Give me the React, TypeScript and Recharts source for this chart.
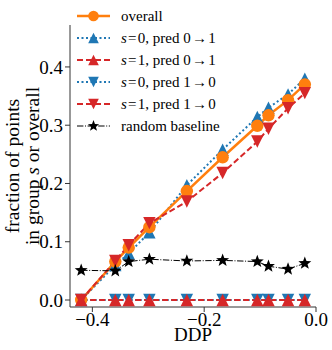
import React from "react";
import { LineChart, Line, XAxis, YAxis } from "recharts";

// values
const ddp = [-0.42, -0.359, -0.335, -0.298, -0.231, -0.167, -0.105, -0.085, -0.05, -0.02];
const overall = [0.0, 0.066, 0.09, 0.125, 0.187, 0.245, 0.299, 0.317, 0.343, 0.37];
const s0Pred01 = [0.0, 0.06, 0.08, 0.116, 0.197, 0.258, 0.314, 0.33, 0.353, 0.38];
const s1Pred01 = [0, 0, 0, 0, 0, 0, 0, 0, 0, 0];
const s0Pred10 = [0, 0, 0, 0, 0, 0, 0, 0, 0, 0];
const s1Pred10 = [0.0, 0.067, 0.094, 0.132, 0.169, 0.218, 0.272, 0.294, 0.329, 0.355];
const randomBaseline = [0.051, 0.05, 0.066, 0.07, 0.067, 0.068, 0.066, 0.058, 0.053, 0.063];

const xTicks = [-0.4, -0.2, 0.0];
const yTicks = [0, 0.1, 0.2, 0.3, 0.4];

const ORANGE = "#ff7f0e";
const BLUE = "#1f77b4";
const RED = "#d62728";
const FONT = "Liberation Serif, Times New Roman, serif";

const data = ddp.map((x, i) => ({
  ddp: x,
  overall: overall[i],
  s0Up: s0Pred01[i],
  s1Up: s1Pred01[i],
  s0Down: s0Pred10[i],
  s1Down: s1Pred10[i],
  baseline: randomBaseline[i],
}));

type MarkerKind = "circle" | "up" | "down" | "star";

function marker(kind: MarkerKind, cx: number, cy: number, color: string, key?: any, h = 6.2) {
  if (kind === "circle") return <circle key={key} cx={cx} cy={cy} r={h} fill={color} />;
  if (kind === "up")
    return <polygon key={key} points={`${cx},${cy - h} ${cx - h},${cy + h} ${cx + h},${cy + h}`} fill={color} />;
  if (kind === "down")
    return <polygon key={key} points={`${cx},${cy + h} ${cx - h},${cy - h} ${cx + h},${cy - h}`} fill={color} />;
  // five point star
  const pts: string[] = [];
  for (let i = 0; i < 10; i++) {
    const r = i % 2 === 0 ? h + 0.6 : (h + 0.6) * 0.42;
    const a = -Math.PI / 2 + (i * Math.PI) / 5;
    pts.push(`${cx + r * Math.cos(a)},${cy + r * Math.sin(a)}`);
  }
  return <polygon key={key} points={pts.join(" ")} fill={color} />;
}

const dotOf = (kind: MarkerKind, color: string) => (p: any) =>
  marker(kind, p.cx, p.cy, color, `${kind}-${color}-${p.index}`);

const sLabel = (s: string, a: string, b: string) => (
  <>
    <tspan fontStyle="italic">s</tspan>
    {"\u200a=\u200a"}
    {s}, pred {a}
    {"\u200a\u2192\u200a"}
    {b}
  </>
);

const legendItems = [
  { label: <>overall</>, color: ORANGE, dash: undefined, width: 2.5, kind: "circle" as MarkerKind },
  { label: sLabel("0", "0", "1"), color: BLUE, dash: "2 2.5", width: 2, kind: "up" as MarkerKind },
  { label: sLabel("1", "0", "1"), color: RED, dash: "6 3", width: 2, kind: "up" as MarkerKind },
  { label: sLabel("0", "1", "0"), color: BLUE, dash: "2 2.5", width: 2, kind: "down" as MarkerKind },
  { label: sLabel("1", "1", "0"), color: RED, dash: "6 3", width: 2, kind: "down" as MarkerKind },
  { label: <>random baseline</>, color: "#000", dash: "6.4 1.6 1 1.6", width: 1, kind: "star" as MarkerKind },
];

function ChartLegend() {
  return (
    <g fontFamily={FONT} fontSize={15} fill="#000">
      {legendItems.map((it, i) => {
        const y = 16 + i * 22;
        return (
          <g key={i}>
            <line x1={77} x2={110} y1={y} y2={y} stroke={it.color} strokeWidth={it.width} strokeDasharray={it.dash} />
            {marker(it.kind, 93.5, y, it.color, undefined, 5.3)}
            <text x={121} y={y + 5}>{it.label}</text>
          </g>
        );
      })}
    </g>
  );
}

const fmtX = (v: number) => (v < 0 ? "\u2212" + Math.abs(v).toFixed(1) : v.toFixed(1));

export default function App() {
  const tick = { fontFamily: FONT, fontSize: 19, fill: "#000" };
  return (
    <div style={{ position: "absolute", left: 0, top: 0, width: 332, height: 350, background: "#fff" }}>
      <LineChart width={332} height={350} data={data} margin={{ top: 25, right: 16, left: 0, bottom: 0 }}>
        <XAxis
          dataKey="ddp"
          type="number"
          domain={[-0.44, 0]}
          ticks={xTicks}
          tickFormatter={fmtX}
          tick={tick}
          tickSize={5}
          tickMargin={1}
          height={43}
          stroke="#333"
          allowDataOverflow
        />
        <YAxis
          type="number"
          domain={[-0.012, 0.472]}
          ticks={yTicks}
          tickFormatter={(v: number) => v.toFixed(1)}
          tick={tick}
          tickSize={5}
          width={70}
          stroke="#333"
          allowDataOverflow
        />
        <Line dataKey="s0Up" stroke={BLUE} strokeWidth={2} strokeDasharray="2 2.5" dot={dotOf("up", BLUE)} isAnimationActive={false} />
        <Line dataKey="s0Down" stroke={BLUE} strokeWidth={2} strokeDasharray="2 2.5" dot={dotOf("down", BLUE)} isAnimationActive={false} />
        <Line dataKey="overall" stroke={ORANGE} strokeWidth={2.5} dot={dotOf("circle", ORANGE)} isAnimationActive={false} />
        <Line dataKey="s1Up" stroke={RED} strokeWidth={2} strokeDasharray="6 3" dot={dotOf("up", RED)} isAnimationActive={false} />
        <Line dataKey="s1Down" stroke={RED} strokeWidth={2} strokeDasharray="6 3" dot={dotOf("down", RED)} isAnimationActive={false} />
        <Line dataKey="baseline" stroke="#000" strokeWidth={1} strokeDasharray="6.4 1.6 1 1.6" dot={dotOf("star", "#000")} isAnimationActive={false} />
      </LineChart>
      <svg width={332} height={350} style={{ position: "absolute", left: 0, top: 0, pointerEvents: "none" }}>
        <g transform="translate(0,166) rotate(-90)" fontFamily={FONT} fontSize={19.5} fill="#000" textAnchor="middle">
          <text x={0} y={19}>fraction of points</text>
          <text x={0} y={39}>
            in group <tspan fontStyle="italic">s</tspan> or overall
          </text>
        </g>
        <text x={193} y={341} fontFamily={FONT} fontSize={19} fill="#000" textAnchor="middle">DDP</text>
        <ChartLegend />
      </svg>
    </div>
  );
}
